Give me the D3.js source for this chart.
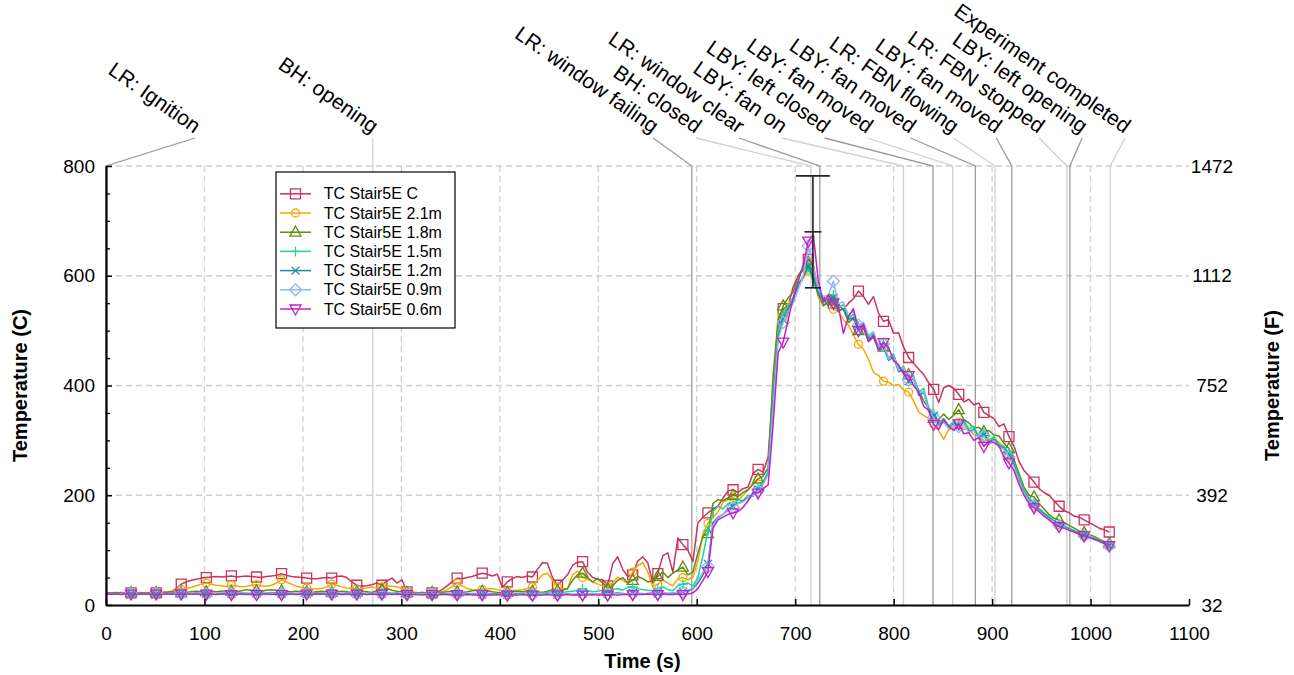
<!DOCTYPE html>
<html><head><meta charset="utf-8">
<script src="https://cdn.jsdelivr.net/npm/d3@7"></script>
<style>
body{margin:0;background:#fff}
svg{display:block}
text{font-family:"Liberation Sans",Arial,sans-serif}
</style>
</head><body>
<svg id="chart" width="1294" height="675"></svg>
<script>
// ---------------- DATA ----------------
const sampleInterval = 5.095;           // s between plotted samples
const nSamples = 201;
const seriesNames = ["TC Stair5E C","TC Stair5E 2.1m","TC Stair5E 1.8m","TC Stair5E 1.5m","TC Stair5E 1.2m","TC Stair5E 0.9m","TC Stair5E 0.6m"];

const stair5E_C = [
22,22,22,23,22,22,23,22,22,23,22,23,24,24,30,38,42,45,47,49,
50,51,52,51,52,53,51,52,53,52,51,50,52,53,54,57,54,52,51,50,
49,48,48,49,50,49,52,53,50,42,36,34,35,37,40,36,44,49,40,46,
24,22,22,23,22,22,23,28,35,42,49,48,50,52,55,58,56,53,56,32,
42,48,52,50,53,51,65,77,76,50,36,45,55,72,78,79,60,50,47,46,
35,75,88,65,52,55,80,88,77,40,57,90,95,60,122,110,100,79,150,160,
168,175,180,195,208,210,205,212,215,240,247,242,270,400,510,540,545,580,600,615,
630,620,570,562,552,550,548,538,550,558,572,562,548,562,532,517,520,495,496,470,
451,440,430,420,405,393,369,396,400,395,384,370,375,365,368,351,345,340,325,330,
307,290,262,245,235,224,212,205,200,190,180,172,168,162,160,155,150,145,140,137,
133];
const stair5E_21m = [
22,22,22,22,22,23,22,22,23,22,23,23,24,25,26,28,30,32,35,38,
40,38,36,35,34,36,35,33,34,36,37,35,34,36,40,46,42,38,34,32,
31,30,29,30,33,38,36,33,31,30,29,30,31,33,31,33,35,34,33,30,
26,24,23,22,23,24,23,24,28,33,40,35,30,28,27,28,29,30,28,26,
25,26,27,28,30,33,45,55,58,45,33,30,29,55,62,50,47,42,38,35,
33,40,51,45,40,60,72,77,60,33,38,46,40,35,48,50,46,51,80,130,
149,160,170,187,192,196,190,200,210,222,228,225,240,390,531,525,550,560,580,595,
610,600,560,548,552,539,535,520,510,492,475,466,448,424,418,408,406,400,402,392,
388,372,352,345,340,330,318,302,320,322,333,320,321,310,311,300,302,304,297,285,
270,255,225,200,190,180,172,165,158,150,146,142,138,134,130,127,124,120,117,114,
110];
const stair5E_18m = [
22,22,23,22,22,23,22,23,22,23,23,22,23,24,23,22,23,24,25,24,
24,25,24,25,26,25,24,26,28,27,26,25,27,28,27,26,25,24,25,24,
24,23,24,25,24,23,24,25,24,23,24,25,24,23,26,28,30,27,25,24,
23,22,22,23,22,23,24,23,24,25,24,23,24,26,27,25,26,24,23,22,
23,24,25,24,26,25,24,23,25,28,26,27,30,45,55,58,50,42,48,40,
30,35,45,50,40,45,52,48,42,44,52,60,50,58,64,69,55,60,95,125,
130,185,192,190,195,200,198,205,210,220,230,235,250,420,520,545,560,570,600,610,
625,600,568,545,552,555,535,540,515,522,500,505,480,488,465,470,448,455,432,428,
420,412,392,372,358,340,338,348,338,346,356,338,332,322,324,316,318,310,308,295,
285,265,240,215,200,197,185,175,165,158,155,150,145,140,135,132,128,125,120,116,
112];
const stair5E_15m = [
21,21,21,21,21,21,22,21,21,21,21,22,21,21,22,22,21,21,22,22,
22,22,21,22,22,21,22,22,22,21,22,22,22,23,22,22,22,22,21,22,
22,22,22,22,22,22,22,21,22,22,22,21,22,22,22,22,23,22,22,21,
21,21,21,21,21,20,21,21,21,21,21,21,21,21,21,21,21,21,20,20,
20,21,21,22,22,24,23,22,23,24,22,23,24,25,27,30,26,24,25,27,
25,28,30,27,32,33,30,28,27,26,30,33,28,26,35,38,40,35,50,90,
135,170,180,175,185,182,192,190,200,198,215,222,245,380,500,528,545,560,580,600,
615,588,570,552,560,565,540,548,522,530,508,512,488,495,466,475,450,458,428,435,
412,418,388,395,360,348,332,340,326,335,330,338,320,326,306,314,298,307,292,290,
276,258,232,210,195,186,176,168,161,154,148,144,140,136,132,128,125,122,118,114,
110];
const stair5E_12m = [
20,20,21,20,20,20,21,20,20,21,20,20,21,20,20,21,20,20,21,20,
20,21,20,20,21,20,20,21,20,20,21,20,20,21,20,20,21,20,20,21,
20,20,21,20,20,21,20,20,21,20,20,21,20,20,21,20,20,20,21,20,
20,20,19,20,20,19,20,20,19,20,20,19,20,20,19,19,20,19,19,20,
19,19,20,19,19,20,19,19,20,19,19,20,20,19,20,21,20,19,20,21,
20,21,22,21,20,22,21,20,21,22,21,22,21,22,23,24,25,30,40,55,
75,150,160,165,175,180,185,190,195,200,210,222,240,370,490,520,540,555,585,598,
618,596,565,558,545,560,536,540,520,524,500,506,485,490,465,470,446,452,425,430,
408,412,382,388,355,345,328,336,322,330,326,334,316,320,304,310,296,302,290,286,
272,255,228,206,192,183,174,166,159,152,146,142,138,134,130,127,124,120,117,113,
109];
const stair5E_09m = [
20,20,20,20,20,21,20,20,20,20,21,20,20,20,21,20,20,20,21,20,
20,21,20,20,20,21,20,20,20,21,20,20,20,21,20,20,20,21,20,20,
21,20,20,20,21,20,20,20,21,20,20,20,21,20,20,20,21,20,20,20,
20,19,20,20,19,20,20,19,20,20,19,20,19,20,19,19,20,19,19,19,
19,19,19,20,19,19,20,19,19,20,19,19,20,19,19,20,20,19,20,20,
20,21,20,21,20,21,22,21,20,21,21,22,21,22,23,24,26,32,45,60,
70,145,158,165,172,178,185,188,195,200,208,220,238,360,485,515,535,550,575,600,
654,620,575,562,565,590,550,552,528,535,510,515,492,498,470,476,448,455,428,432,
410,415,385,390,352,342,326,333,322,328,325,332,314,318,302,308,292,300,288,284,
270,252,226,205,190,181,172,164,157,151,145,141,137,133,129,126,123,119,116,112,
108];
const stair5E_06m = [
20,20,20,19,20,20,19,20,20,19,20,19,20,20,19,20,19,20,20,19,
20,20,19,20,20,19,20,20,19,20,19,20,20,19,20,19,20,20,19,20,
20,19,20,20,19,20,20,19,20,19,20,20,19,20,19,20,20,19,20,19,
19,19,19,18,19,19,18,19,19,18,19,18,19,18,18,19,18,18,19,18,
18,18,18,19,18,18,18,18,19,18,18,18,19,18,18,18,18,19,18,18,
18,19,18,19,19,19,19,19,20,19,19,20,19,19,20,19,20,22,30,45,
61,140,155,160,165,168,170,178,190,205,204,212,219,330,460,479,520,560,590,620,
663,675,590,552,565,550,545,495,525,540,500,512,480,492,465,478,470,445,438,420,
418,400,388,362,355,329,320,338,326,318,330,312,314,300,305,289,298,296,290,270,
259,245,220,200,185,177,170,162,155,148,143,140,136,133,129,126,123,120,116,112,
108];

const eventTimes  = [0,271,595,716,725,810,840,860,883,903,920,976,979,1020];
const eventLabels = ["LR: Ignition","BH: opening","LR: window failing","BH: closed","LR: window clear",
  "LBY: fan on","LBY: left closed","LBY: fan moved","LBY: fan moved","LR: FBN flowing",
  "LBY: fan moved","LR: FBN stopped","LBY: left opening","Experiment completed"];

const errTime = [718];
const errValue = [680];
const errLow = [578];
const errHigh = [782];

const xTicks = [0,100,200,300,400,500,600,700,800,900,1000,1100];
const yTicksC = [0,200,400,600,800];
const yMinorC = [50,100,150,250,300,350,450,500,550,650,700,750];
const yTicksF = [32,392,752,1112,1472];

// ---------------- STYLE ----------------
const seriesColors = ["#C9345E","#F2A900","#5F8C0F","#1FD39B","#1B8A99","#8DB6F5","#C520C8"];
const markerPaths = [
  "M-5,-5H5V5H-5Z",
  d3.symbol(d3.symbolCircle, 50)(),
  "M0,-6L5.5,4L-5.5,4Z",
  "M-5,0H5M0,-5V5",
  "M-4,-4L4,4M-4,4L4,-4",
  "M0,-6L6,0L0,6L-6,0Z",
  "M0,6L5.5,-4L-5.5,-4Z"
];
const seriesValues = [stair5E_C,stair5E_21m,stair5E_18m,stair5E_15m,stair5E_12m,stair5E_09m,stair5E_06m];
const timeS = d3.range(nSamples).map(i => i * sampleInterval);

const svg = d3.select("#chart");
const x = d3.scaleLinear().domain([0,1100]).range([106,1189]);
const y = d3.scaleLinear().domain([0,800]).range([605,166]);
const yF = d3.scaleLinear().domain([32,1472]).range([605,166]);
const FONT = '"Liberation Sans",Arial,sans-serif';
const fmt = d3.format("d");

// grid
const grid = svg.append("g");
grid.selectAll("line.gv").data(xTicks.filter(t => t > 0 && t < 1100)).join("line")
  .attr("x1", d => x(d)).attr("x2", d => x(d)).attr("y1", y(800)).attr("y2", y(0))
  .attr("stroke", "#cfcfcf").attr("stroke-width", 1.3).attr("stroke-dasharray", "6,4");
grid.selectAll("line.gh").data(yTicksC.filter(t => t > 0)).join("line")
  .attr("x1", x(0)).attr("x2", x(1100)).attr("y1", d => y(d)).attr("y2", d => y(d))
  .attr("stroke", "#cfcfcf").attr("stroke-width", 1.3).attr("stroke-dasharray", "6,4");

// event labels
const evG = svg.append("g");
const evTexts = evG.selectAll("text").data(eventLabels).join("text")
  .attr("font-size", 21).attr("text-anchor", "end").attr("fill", "#000").text(d => d);
const ang = 35 * Math.PI / 180;
const lows = [];
evTexts.each(function() {
  const L = this.getComputedTextLength();
  lows.push(x(0) + L * Math.cos(ang) + 2);
});
function layoutAnchors(xs, lo, upper, gap) {
  let cl = xs.map((v, i) => ({s: i, e: i}));
  const place = c => {
    const n = c.e - c.s + 1;
    const mean = d3.mean(xs.slice(c.s, c.e + 1));
    let first = mean - (n - 1) / 2 * gap;
    let lb = -Infinity;
    for (let j = c.s; j <= c.e; j++) lb = Math.max(lb, lo[j] - (j - c.s) * gap);
    first = Math.max(first, lb);
    if (first + (n - 1) * gap > upper) first = upper - (n - 1) * gap;
    c.first = first; c.last = first + (n - 1) * gap;
  };
  let changed = true;
  while (changed) {
    changed = false;
    cl.forEach(place);
    for (let k = 0; k < cl.length - 1; k++) {
      if (cl[k].last + gap > cl[k + 1].first + 1e-6) {
        cl[k].e = cl[k + 1].e; cl.splice(k + 1, 1); changed = true; break;
      }
    }
  }
  const pos = [];
  cl.forEach(c => { for (let j = c.s; j <= c.e; j++) pos[j] = c.first + (j - c.s) * gap; });
  return pos;
}
const evX = eventTimes.map(t => x(t));
const anchors = layoutAnchors(evX, lows, 1125, 42.9);
const connTop = 138;
const evColor = i => (i % 2 === 0 ? "#9c9c9c" : "#d0d0d0");
evTexts.attr("transform", (d, i) => `translate(${anchors[i] - 1},${connTop - 4}) rotate(35)`);
evG.selectAll("path.conn").data(eventTimes).join("path")
  .attr("d", (t, i) => `M${anchors[i]},${connTop}L${x(t)},${y(800)}L${x(t)},${y(0)}`)
  .attr("fill", "none").attr("stroke", (t, i) => evColor(i)).attr("stroke-width", 1.3);

// series
const line = d3.line().x((d, i) => x(timeS[i])).y(d => y(d));
const dataG = svg.append("g");
seriesValues.forEach((vals, s) => {
  const g = dataG.append("g");
  g.append("path").attr("d", line(vals)).attr("fill", "none")
    .attr("stroke", seriesColors[s]).attr("stroke-width", 1.5).attr("stroke-linejoin", "round");
  const mk = vals.map((v, i) => ({t: timeS[i], v, i})).filter(d => d.i > 0 && d.i % 5 === 0);
  g.selectAll("path.m").data(mk).join("path")
    .attr("d", markerPaths[s])
    .attr("transform", d => `translate(${x(d.t)},${y(d.v)})`)
    .attr("fill", "none").attr("stroke", seriesColors[s]).attr("stroke-width", 1.3);
});

// error bar
const eb = svg.append("g").attr("stroke", "#222").attr("stroke-width", 1.6);
errTime.forEach((t, k) => {
  const cx = x(t);
  eb.append("line").attr("x1", cx).attr("x2", cx).attr("y1", y(errLow[k])).attr("y2", y(errHigh[k]));
  eb.append("line").attr("x1", cx - 17).attr("x2", cx + 17).attr("y1", y(errHigh[k])).attr("y2", y(errHigh[k]));
  eb.append("line").attr("x1", cx - 8.5).attr("x2", cx + 8.5).attr("y1", y(errValue[k])).attr("y2", y(errValue[k]));
  eb.append("line").attr("x1", cx - 8).attr("x2", cx + 8).attr("y1", y(errLow[k])).attr("y2", y(errLow[k]));
});

// axes
const xAxis = svg.append("g").attr("transform", `translate(0,${y(0)})`)
  .call(d3.axisBottom(x).tickValues(xTicks).tickFormat(fmt).tickSize(-6).tickSizeOuter(0).tickPadding(22));
xAxis.select(".domain").attr("stroke", "#000").attr("stroke-width", 2.2);
xAxis.selectAll(".tick line").attr("stroke", "#000").attr("stroke-width", 1.5);
xAxis.selectAll("text").attr("font-size", 19).attr("font-family", FONT).attr("fill", "#000");

const yMinor = svg.append("g").attr("transform", `translate(${x(0)},0)`)
  .call(d3.axisLeft(y).tickValues(yMinorC).tickSize(-4).tickFormat(""));
yMinor.select(".domain").remove();
yMinor.selectAll(".tick line").attr("stroke", "#000").attr("stroke-width", 1.3);

const yAxis = svg.append("g").attr("transform", `translate(${x(0)},0)`)
  .call(d3.axisLeft(y).tickValues(yTicksC).tickFormat(fmt).tickSize(-6).tickSizeOuter(0).tickPadding(11));
yAxis.select(".domain").attr("stroke", "#000").attr("stroke-width", 2.2);
yAxis.selectAll(".tick line").attr("stroke", "#000").attr("stroke-width", 1.5);
yAxis.selectAll("text").attr("font-size", 19).attr("font-family", FONT).attr("fill", "#000");

const yAxisF = svg.append("g").attr("transform", `translate(${x(1100)},0)`)
  .call(d3.axisRight(yF).tickValues(yTicksF).tickFormat(fmt).tickSize(0).tickPadding(23));
yAxisF.select(".domain").remove();
yAxisF.selectAll("text").attr("font-size", 19).attr("font-family", FONT).attr("fill", "#000")
  .attr("text-anchor", "middle");

// axis titles
svg.append("text").attr("x", x(550) - 5).attr("y", 668).attr("text-anchor", "middle")
  .attr("font-size", 20).attr("font-weight", "bold").text("Time (s)");
svg.append("text").attr("transform", `translate(27,${(y(0) + y(800)) / 2}) rotate(-90)`)
  .attr("text-anchor", "middle").attr("font-size", 20).attr("font-weight", "bold").text("Temperature (C)");
svg.append("text").attr("transform", `translate(1279,${(y(0) + y(800)) / 2}) rotate(-90)`)
  .attr("text-anchor", "middle").attr("font-size", 20).attr("font-weight", "bold").text("Temperature (F)");

// legend
const lg = svg.append("g").attr("transform", "translate(276,172)");
lg.append("rect").attr("width", 179).attr("height", 156).attr("fill", "#fff")
  .attr("stroke", "#000").attr("stroke-width", 1.2);
seriesNames.forEach((name, s) => {
  const ry = 21.8 + s * 19.2;
  lg.append("line").attr("x1", 4).attr("x2", 35).attr("y1", ry).attr("y2", ry)
    .attr("stroke", seriesColors[s]).attr("stroke-width", 1.5);
  lg.append("path").attr("d", markerPaths[s]).attr("transform", `translate(19.5,${ry})`)
    .attr("fill", "none").attr("stroke", seriesColors[s]).attr("stroke-width", 1.3);
  lg.append("text").attr("x", 47.7).attr("y", ry + 5.6).attr("font-size", 16).attr("fill", "#000").text(name);
});
</script>
</body></html>
